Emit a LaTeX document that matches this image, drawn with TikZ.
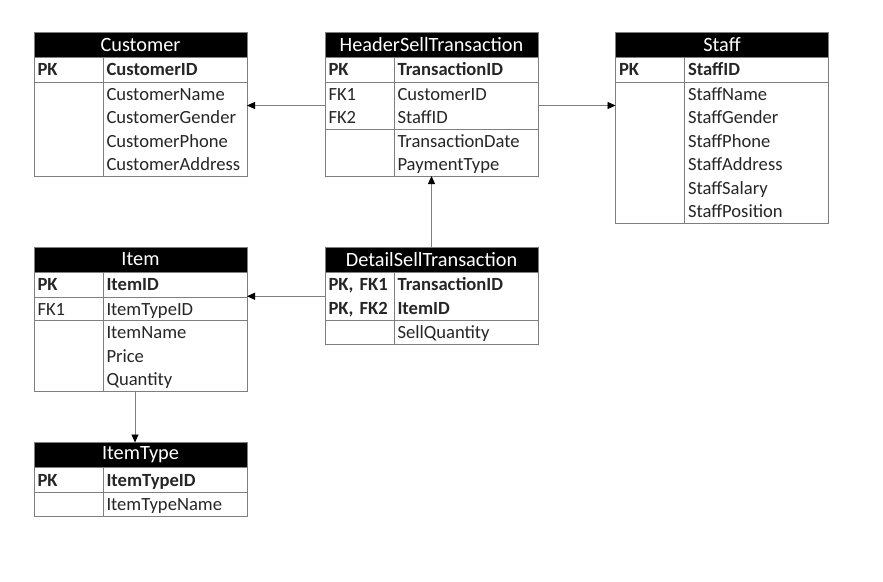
\documentclass[tikz,border=0pt]{standalone}
\usepackage{fontspec}
\setmainfont{Carlito}
\usepackage{xcolor}
\usetikzlibrary{positioning,arrows.meta}
\definecolor{gridgray}{HTML}{7F7F7F}
\definecolor{inkgray}{HTML}{262626}

\begin{document}
\begin{tikzpicture}[
  x=1pt, y=-1pt,
  tabhead/.style={rectangle, fill=black, draw=gridgray, text=white, anchor=north west, minimum width=213pt, minimum height=25pt, inner sep=0pt, outer sep=0pt, font=\fontsize{20.3}{22}\selectfont},
  cell/.style={rectangle, draw=gridgray, line width=0.8pt, inner xsep=3.5pt, inner ysep=0pt, outer sep=0pt, align=left, text=inkgray, font=\fontsize{18.6}{23.5}\selectfont, execute at begin node={\rule[-5.5pt]{0pt}{23.5pt}}, execute at end node={\rule[-5.5pt]{0pt}{23.5pt}}},
  keycell/.style={cell, text width=62pt},
  fieldcell/.style={cell, text width=137pt},
  pk/.style={font=\fontsize{18.6}{23.5}\selectfont\bfseries},
  link/.style={draw=gridgray, line width=0.9pt, -{Triangle[length=8pt, width=7pt, color=black]}}
]
\fill[white] (0,0) rectangle (883,581);

% Customer
\node[tabhead] (cust) at (34,32) {Customer};
\node[keycell, pk, minimum height=25pt, below right=0pt and 0pt of cust.south west] (custpk) {PK};
\node[fieldcell, pk, minimum height=25pt, right=0pt of custpk] (custid) {CustomerID};
\node[keycell, minimum height=94pt, below=0pt of custpk] (custkey) {};
\node[fieldcell, minimum height=94pt, right=0pt of custkey] (custattr) {CustomerName\\CustomerGender\\CustomerPhone\\CustomerAddress};

% HeaderSellTransaction
\node[tabhead] (hdr) at (325,32) {HeaderSellTransaction};
\node[keycell, pk, minimum height=25pt, below right=0pt and 0pt of hdr.south west] (hdrpk) {PK};
\node[fieldcell, pk, minimum height=25pt, right=0pt of hdrpk] (hdrid) {TransactionID};
\node[keycell, minimum height=47pt, below=0pt of hdrpk] (hdrfk) {FK1\\FK2};
\node[fieldcell, minimum height=47pt, right=0pt of hdrfk] (hdrfkattr) {CustomerID\\StaffID};
\node[keycell, minimum height=47pt, below=0pt of hdrfk] (hdrkey) {};
\node[fieldcell, minimum height=47pt, right=0pt of hdrkey] (hdrattr) {TransactionDate\\PaymentType};

% Staff
\node[tabhead] (staff) at (615.5,32) {Staff};
\node[keycell, pk, minimum height=25pt, below right=0pt and 0pt of staff.south west] (staffpk) {PK};
\node[fieldcell, pk, minimum height=25pt, right=0pt of staffpk] (staffid) {StaffID};
\node[keycell, minimum height=141pt, below=0pt of staffpk] (staffkey) {};
\node[fieldcell, minimum height=141pt, right=0pt of staffkey] (staffattr) {StaffName\\StaffGender\\StaffPhone\\StaffAddress\\StaffSalary\\StaffPosition};

% Item
\node[tabhead] (item) at (34,247) {Item};
\node[keycell, pk, minimum height=25pt, below right=0pt and 0pt of item.south west] (itempk) {PK};
\node[fieldcell, pk, minimum height=25pt, right=0pt of itempk] (itemid) {ItemID};
\node[keycell, minimum height=23.5pt, below=0pt of itempk] (itemfk) {FK1};
\node[fieldcell, minimum height=23.5pt, right=0pt of itemfk] (itemfkattr) {ItemTypeID};
\node[keycell, minimum height=70.5pt, below=0pt of itemfk] (itemkey) {};
\node[fieldcell, minimum height=70.5pt, right=0pt of itemkey] (itemattr) {ItemName\\Price\\Quantity};

% DetailSellTransaction
\node[tabhead] (dtl) at (325,247) {DetailSellTransaction};
\node[keycell, pk, minimum height=48.5pt, below right=0pt and 0pt of dtl.south west] (dtlpk) {PK, FK1\\PK, FK2};
\node[fieldcell, pk, minimum height=48.5pt, right=0pt of dtlpk] (dtlid) {TransactionID\\ItemID};
\node[keycell, minimum height=23.5pt, below=0pt of dtlpk] (dtlkey) {};
\node[fieldcell, minimum height=23.5pt, right=0pt of dtlkey] (dtlattr) {SellQuantity};

% ItemType
\node[tabhead] (ityp) at (34,442.5) {ItemType};
\node[keycell, pk, minimum height=25pt, below right=0pt and 0pt of ityp.south west] (ityppk) {PK};
\node[fieldcell, pk, minimum height=25pt, right=0pt of ityppk] (itypid) {ItemTypeID};
\node[keycell, minimum height=23.5pt, below=0pt of ityppk] (itypkey) {};
\node[fieldcell, minimum height=23.5pt, right=0pt of itypkey] (itypattr) {ItemTypeName};

% relations
\draw[link] (hdrfk.west) -- (hdrfk.west -| custattr.east);
\draw[link] (hdrfkattr.east) -- (hdrfkattr.east -| staffkey.west);
\draw[link] (dtl.north) -- (dtl.north |- hdrattr.south);
\draw[link] (dtlpk.west) -- (dtlpk.west -| itemid.east);
\draw[link] ([xshift=32pt]itemattr.south west) -- ([xshift=32pt]itemattr.south west |- ityp.north);
\end{tikzpicture}
\end{document}
